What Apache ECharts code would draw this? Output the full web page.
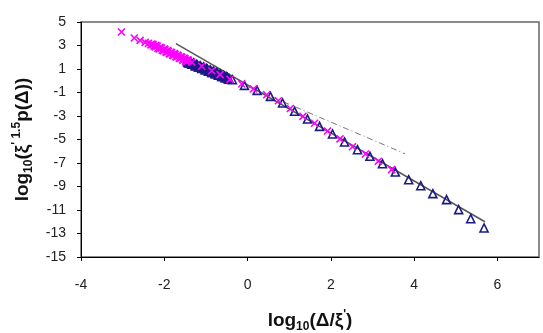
<!DOCTYPE html>
<html>
<head>
<meta charset="utf-8">
<script src="https://cdn.jsdelivr.net/npm/echarts@6/dist/echarts.min.js"></script>
<style>
  html, body { margin: 0; padding: 0; background: #fff; }
  #chart { width: 543px; height: 333px; }
</style>
</head>
<body>
<div id="chart"></div>
<script>
// tick labels
var xTicks = [-4, -2, 0, 2, 4, 6]
var yTicks = [-15, -13, -11, -9, -7, -5, -3, -1, 1, 3, 5]

// triangles (dense cluster, then binned points)
var triX = [-1.46, -1.42, -1.38, -1.34, -1.30, -1.26, -1.22, -1.18, -1.14, -1.10, -1.06, -1.02, -0.98,
  -0.94, -0.90, -0.86, -0.82, -0.78, -0.74, -0.70, -0.66, -0.62, -0.58, -0.54, -0.50, -0.46,
  -1.44, -1.40, -1.36, -1.32, -1.28, -1.24, -1.20, -1.16, -1.12, -1.08, -1.04, -1.00, -0.96,
  -0.92, -0.88, -0.84, -0.80, -0.76, -0.72, -0.68, -0.64, -0.60, -0.56, -0.52, -0.48, -0.44,
  -0.365, -0.075, 0.23, 0.55, 0.84, 1.13, 1.44, 1.73, 2.04, 2.33, 2.64, 2.94, 3.24, 3.55,
  3.87, 4.16, 4.45, 4.78, 5.07, 5.36, 5.68]
var triY = [1.72, 1.53, 1.62, 1.40, 1.51, 1.28, 1.39, 1.17, 1.28, 1.05, 1.16, 0.94, 1.04,
  0.82, 0.92, 0.71, 0.81, 0.59, 0.69, 0.48, 0.58, 0.37, 0.45, 0.26, 0.33, 0.15,
  1.60, 1.52, 1.53, 1.40, 1.42, 1.28, 1.31, 1.18, 1.19, 1.06, 1.08, 0.95, 0.97,
  0.83, 0.85, 0.71, 0.73, 0.60, 0.62, 0.48, 0.50, 0.36, 0.38, 0.25, 0.27, 0.14,
  0.09, -0.39, -0.82, -1.33, -1.89, -2.60, -3.26, -3.88, -4.53, -5.21, -5.87, -6.43, -7.06, -7.77,
  -8.42, -8.93, -9.61, -10.12, -10.97, -11.74, -12.53]

// crosses
var crossX = [-3.03, -2.72, -2.58, -2.46, -2.38, -2.30, -2.25, -2.20, -2.15, -2.10, -2.05, -2.00,
  -1.96, -1.92, -1.88, -1.84, -1.80, -1.76, -1.72, -1.68, -1.64, -1.60, -1.56, -1.52, -1.48, -1.44,
  -2.32, -2.27, -2.22, -2.17, -2.12, -2.07, -2.02, -1.98, -1.94, -1.90, -1.86, -1.82, -1.78,
  -1.74, -1.70, -1.66, -1.62, -1.58, -1.54, -1.50, -1.46, -1.42,
  -1.34, -1.10, -0.86, -0.66, -0.42,
  -0.14, 0.14, 0.46, 0.74, 1.03, 1.33, 1.61, 1.92, 2.22, 2.52, 2.83, 3.14, 3.46]
var crossY = [4.15, 3.64, 3.44, 3.27, 3.18, 3.12, 2.96, 3.02, 2.76, 2.85, 2.60, 2.70,
  2.45, 2.56, 2.31, 2.44, 2.18, 2.31, 2.04, 2.18, 1.91, 2.05, 1.78, 1.92, 1.65, 1.79,
  3.05, 3.10, 2.88, 2.95, 2.71, 2.80, 2.55, 2.64, 2.41, 2.51, 2.28, 2.38, 2.15,
  2.25, 2.02, 2.12, 1.89, 1.99, 1.77, 1.86, 1.64, 1.73,
  1.58, 1.23, 0.85, 0.52, 0.12,
  -0.28, -0.70, -1.19, -1.70, -2.36, -3.03, -3.62, -4.28, -4.95, -5.62, -6.23, -6.85, -7.56]

// fitted lines
var fitX = [-1.72, 5.70]
var fitY = [3.16, -12.0]
var slopeX = [0.0, 3.78]
var slopeY = [-0.49, -6.21]

function pairs(xs, ys) {
  return xs.map(function (x, i) { return [x, ys[i]] })
}

var chart = echarts.init(document.getElementById('chart'), null, { renderer: 'canvas' })
var font = 'Liberation Sans, Arial, sans-serif'

// rich text styles for axis titles (subscript / superscript)
var titleRich = {
  b: { fontSize: 19, fontWeight: 'bold', fontFamily: font, color: '#111', lineHeight: 24 },
  s: { fontSize: 12, fontWeight: 'bold', fontFamily: font, color: '#111', lineHeight: 14, verticalAlign: 'bottom' },
  p: { fontSize: 12, fontWeight: 'bold', fontFamily: font, color: '#111', lineHeight: 14, verticalAlign: 'top' }
}

chart.setOption({
  animation: false,
  textStyle: { fontFamily: font },
  grid: {
    left: 81, right: 4, top: 22, bottom: 76,
    containLabel: false, outerBoundsMode: 'none',
    show: true, borderColor: '#666', borderWidth: 1.5
  },
  xAxis: {
    type: 'value', min: -4, max: 7, interval: 2,
    splitLine: { show: false },
    axisLine: { show: true, onZero: false, lineStyle: { color: '#000', width: 1 } },
    axisTick: { show: true, length: 4, customValues: xTicks, lineStyle: { color: '#000' } },
    axisLabel: { customValues: xTicks, color: '#222', fontSize: 14, margin: 21, fontFamily: font },
    name: '{b|log}{s|10}{b|(Δ/ξ}{p|\'}{b|)}',
    nameLocation: 'middle',
    nameGap: 52,
    nameTextStyle: { rich: titleRich }
  },
  yAxis: {
    type: 'value', min: -15, max: 5, interval: 2,
    splitLine: { show: false },
    axisLine: { show: true, onZero: false, lineStyle: { color: '#000', width: 1 } },
    axisTick: { show: true, length: 4, customValues: yTicks, lineStyle: { color: '#000' } },
    axisLabel: { customValues: yTicks, color: '#222', fontSize: 14, margin: 15, fontFamily: font },
    name: '{b|log}{s|10}{b|(ξ}{p|\' 1.5}{b|p(Δ))}',
    nameLocation: 'middle',
    nameGap: 46,
    nameRotate: 90,
    nameTextStyle: { rich: titleRich }
  },
  series: [
    {
      type: 'line',
      data: pairs(slopeX, slopeY),
      symbol: 'none',
      lineStyle: { color: '#777', width: 1, type: [6, 3, 1, 3] },
      z: 1
    },
    {
      type: 'line',
      data: pairs(fitX, fitY),
      symbol: 'none',
      lineStyle: { color: '#555', width: 1.5 },
      z: 2
    },
    {
      type: 'scatter',
      data: pairs(triX, triY),
      symbol: 'triangle',
      symbolSize: 8,
      itemStyle: { color: 'rgba(0,0,0,0)', borderColor: '#1c1a85', borderWidth: 1.6, opacity: 1 },
      z: 3
    },
    {
      type: 'scatter',
      data: pairs(crossX, crossY),
      symbol: 'path://M0,0L10,10M10,0L0,10',
      symbolSize: 7,
      itemStyle: { color: 'rgba(0,0,0,0)', borderColor: '#ff00ff', borderWidth: 1.6, opacity: 1 },
      z: 4
    }
  ]
})
</script>
</body>
</html>
